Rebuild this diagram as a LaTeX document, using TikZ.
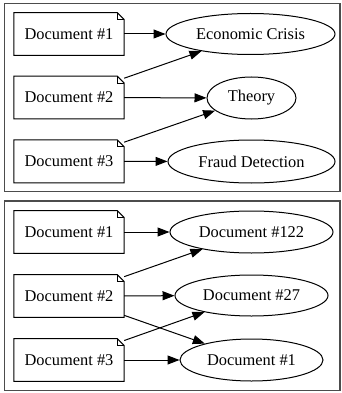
\documentclass[tikz,border=0pt]{standalone}
\usepackage{fontspec}
\setmainfont{Liberation Serif}
\usetikzlibrary{shapes.geometric,arrows.meta}
\tikzset{
  notebox/.style={rectangle, minimum width=110pt, minimum height=42.5pt, inner sep=0pt},
  topic/.style={ellipse, draw, line width=1pt, inner sep=0pt},
  edge/.style={line width=1pt, -{Triangle[length=12pt,width=9pt]}},
  frame/.style={draw=black!70, line width=1.5pt},
  lbl/.style={font=\fontsize{16.4}{19}\selectfont}
}
\begin{document}
\begin{tikzpicture}[x=1pt,y=-1pt]
\useasboundingbox (0,0) rectangle (341,393);
\draw[frame] (4.7,3.5) rectangle (340,191.5);
\draw[frame] (4.7,200.8) rectangle (340,390.3);
% top graph
\node[notebox,lbl] (d1) at (69,34) {Document \#1};
\node[notebox,lbl] (d2) at (69,97.5) {Document \#2};
\node[notebox,lbl] (d3) at (69,161.3) {Document \#3};
\node[topic,lbl,minimum width=169pt,minimum height=41pt] (ec) at (250.5,34) {Economic Crisis};
\node[topic,lbl,minimum width=89pt,minimum height=42pt] (th) at (251.5,98) {Theory};
\node[topic,lbl,minimum width=167pt,minimum height=43pt] (fd) at (251.5,161.5) {Fraud Detection};
% bottom graph
\node[notebox,lbl] (b1) at (69,232) {Document \#1};
\node[notebox,lbl] (b2) at (69,296) {Document \#2};
\node[notebox,lbl] (b3) at (69,360) {Document \#3};
\node[topic,lbl,minimum width=163pt,minimum height=42pt] (t122) at (251.5,232) {Document \#122};
\node[topic,lbl,minimum width=153pt,minimum height=41pt] (t27) at (251.5,295.5) {Document \#27};
\node[topic,lbl,minimum width=143pt,minimum height=42pt] (t1) at (251.5,360) {Document \#1};
% note outlines
\foreach \n in {d1,d2,d3,b1,b2,b3}{
  \draw[line width=1pt,line join=miter] (\n.south west) -- (\n.north west) -- ([xshift=-7pt]\n.north east) -- ([yshift=-7pt]\n.north east) -- (\n.south east) -- cycle;
  \draw[line width=1pt] ([xshift=-7pt]\n.north east) |- ([yshift=-7pt]\n.north east);
}
% edges
\draw[edge] (d1) -- (ec);
\draw[edge] (d2) -- (ec);
\draw[edge] (d2) -- (th);
\draw[edge] (d3) -- (th);
\draw[edge] (d3) -- (fd);
\draw[edge] (b1) -- (t122);
\draw[edge] (b2) -- (t122);
\draw[edge] (b2) -- (t27);
\draw[edge] (b2) -- (t1);
\draw[edge] (b3) -- (t27);
\draw[edge] (b3) -- (t1);
\end{tikzpicture}
\end{document}
